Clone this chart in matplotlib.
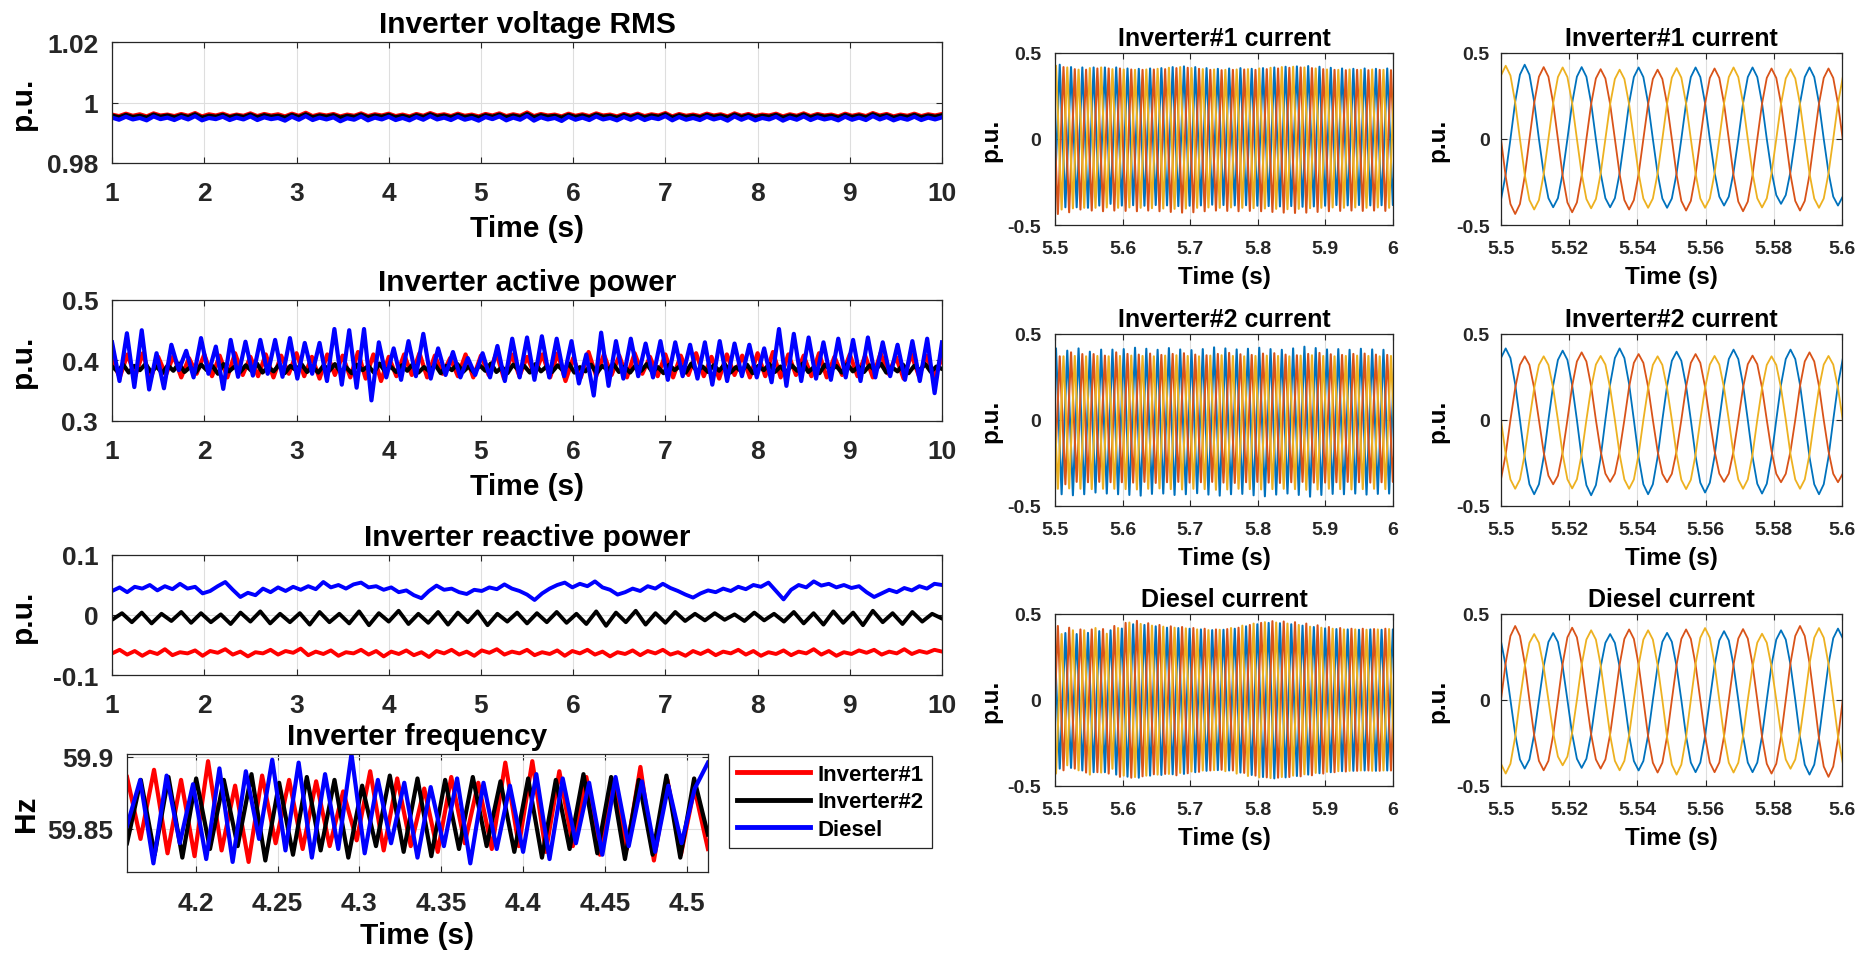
import numpy as np
import matplotlib
matplotlib.use("Agg")
import matplotlib.pyplot as plt

plt.rcParams["font.family"] = ["Liberation Sans", "DejaVu Sans"]
plt.rcParams["font.weight"] = "bold"

# ---------------- data ----------------
# left column, 1..10 s, values in 1e-4 p.u. (voltage) / 1e-3 p.u. (powers)
volt_inv1 = [9960,9955,9963,9956,9961,9954,9964,9957,9960,9955,9962,9956,9965,9954,9961,9957,9963,9955,9960,9956,
             9964,9955,9962,9957,9961,9954,9963,9956,9966,9955,9961,9957,9962,9954,9960,9956,9964,9955,9961,9957,
             9963,9955,9960,9954,9962,9956,9965,9957,9961,9955,9963,9956,9960,9954,9962,9957,9964,9955,9961,9956,
             9967,9955,9962,9957,9960,9954,9963,9956,9961,9955,9964,9957,9960,9954,9962,9956,9963,9955,9961,9957,
             9965,9954,9962,9956,9960,9955,9963,9957,9961,9954,9964,9956,9962,9955,9960,9957,9963,9954,9961,9956,
             9964,9955,9962,9957,9960,9954,9963,9956,9961,9955,9965,9957,9962,9954,9960,9956,9963,9955,9961,9957,
             9962]
volt_inv2 = [9957,9951,9959,9952,9956,9950,9960,9953,9957,9951,9958,9952,9961,9950,9956,9953,9959,9951,9957,9952,
             9960,9951,9958,9953,9956,9950,9959,9952,9961,9951,9957,9953,9958,9950,9956,9952,9960,9951,9957,9953,
             9959,9951,9956,9950,9958,9952,9961,9953,9957,9951,9959,9952,9956,9950,9958,9953,9960,9951,9957,9952,
             9962,9951,9958,9953,9956,9950,9959,9952,9957,9951,9960,9953,9956,9950,9958,9952,9959,9951,9957,9953,
             9961,9950,9958,9952,9956,9951,9959,9953,9957,9950,9960,9952,9958,9951,9956,9953,9959,9950,9957,9952,
             9960,9951,9958,9953,9956,9950,9959,9952,9957,9951,9961,9953,9958,9950,9956,9952,9959,9951,9957,9953,
             9958]
volt_diesel = [9950,9943,9953,9944,9949,9941,9954,9945,9950,9942,9952,9944,9955,9941,9949,9945,9953,9942,9950,9944,
               9954,9942,9951,9945,9949,9940,9953,9943,9955,9942,9950,9944,9951,9938,9948,9943,9954,9941,9950,9944,
               9953,9942,9949,9941,9952,9943,9955,9944,9950,9942,9953,9943,9949,9940,9952,9945,9954,9941,9950,9943,
               9956,9940,9951,9944,9949,9939,9953,9943,9950,9942,9954,9944,9949,9941,9952,9943,9953,9942,9950,9945,
               9955,9941,9952,9943,9949,9942,9953,9944,9950,9940,9954,9943,9952,9941,9949,9944,9953,9940,9950,9943,
               9954,9942,9951,9944,9949,9941,9953,9943,9950,9942,9955,9944,9952,9941,9949,9943,9953,9942,9950,9944,
               9951]

p_inv1 = [400,372,410,374,412,370,406,376,408,372,404,378,410,374,408,372,412,376,406,374,410,372,408,378,412,
          374,406,370,410,376,408,372,414,370,410,366,406,374,410,376,412,372,408,378,404,374,410,372,408,376,
          412,370,410,374,406,376,410,372,412,366,404,372,414,374,410,376,408,372,412,378,406,374,410,372,408,
          376,412,374,406,370,410,376,408,372,412,374,414,372,410,376,408,374,412,372,406,376,410,374,408,372,
          412,378,406,370,410,374,408,372,404]
p_inv2 = [390,382,393,380,391,384,394,381,390,379,392,383,395,381,389,380,393,384,391,378,394,382,390,381,392,
          383,395,380,389,382,393,379,391,384,394,381,390,380,392,383,394,381,389,379,393,384,391,380,395,382,
          390,381,392,383,394,380,389,382,393,379,391,384,394,381,390,380,392,383,395,381,389,379,393,384,391,
          380,394,382,390,381,392,383,395,380,389,382,393,379,391,384,394,381,390,380,392,383,394,381,389,379,
          393,384,391,380,395,382,390,381,392,383,394,380,389,382,393,379,391,384,394,381,390,380,392,383,395,
          381,389,379,393,384,391,380,394,382,390,381,392,383,395,380,389,382,393,379,391,384,394,381,390,386]
p_diesel = [430,366,445,356,450,352,412,354,426,384,416,372,437,378,423,353,434,373,431,375,434,378,434,373,437,
            370,429,378,429,366,452,360,450,355,452,334,430,372,420,368,432,374,444,370,420,376,414,372,404,376,
            412,372,424,366,436,372,438,368,440,372,436,374,432,362,410,342,446,358,432,370,436,374,428,372,432,
            368,430,374,426,370,430,360,432,366,428,374,426,372,420,364,452,358,444,366,438,370,430,368,436,372,
            434,366,438,372,430,374,426,368,432,366,436,346,430]

q_inv1 = [-64,-58,-66,-60,-68,-61,-65,-57,-67,-62,-64,-59,-68,-60,-63,-57,-66,-61,-69,-62,-64,-58,-66,-60,-63,
          -56,-67,-61,-65,-59,-68,-62,-64,-58,-66,-60,-69,-61,-65,-59,-67,-62,-70,-60,-64,-58,-66,-61,-68,-59,
          -63,-57,-66,-61,-64,-58,-67,-62,-65,-59,-68,-60,-64,-58,-66,-61,-69,-62,-65,-59,-67,-60,-64,-58,-66,
          -62,-68,-60,-65,-59,-67,-61,-64,-58,-66,-60,-68,-62,-65,-59,-67,-61,-64,-57,-66,-60,-68,-62,-65,-59,
          -63,-58,-66,-61,-64,-57,-65,-60,-63,-58,-61]
q_inv2 = [-8,3,-12,4,-14,2,-10,5,-13,3,-12,1,-15,4,-11,6,-14,2,-12,3,-16,5,-12,2,-14,6,-17,3,-11,7,-15,2,-13,5,
          -16,4,-12,6,-17,2,-11,4,-14,3,-12,5,-13,2,-15,6,-18,4,-12,7,-16,3,-13,5,-10,2,-9,3,-8,1,-10,4,-9,2,
          -11,5,-14,3,-16,6,-13,4,-17,7,-12,3,-15,5,-11,2,-6]
q_diesel = [40,46,38,47,44,50,41,48,43,52,44,47,36,40,48,55,42,30,37,33,44,38,46,40,47,42,48,43,55,46,50,44,51,
            54,46,48,42,46,38,41,33,28,40,49,42,44,38,35,42,40,46,43,51,44,40,34,25,36,44,50,54,46,52,48,56,46,
            42,34,38,44,40,48,44,52,45,40,34,29,36,41,38,44,40,47,43,50,47,54,40,26,42,50,46,56,49,52,46,50,45,
            48,38,30,36,42,38,45,41,48,44,52,50]

# frequency window 4.158..4.513 s, Hz
f_inv1 = [59.886,59.843,59.891,59.833,59.884,59.831,59.897,59.835,59.880,59.827,59.887,59.840,59.884,59.836,59.883,
          59.838,59.876,59.842,59.890,59.835,59.885,59.838,59.878,59.834,59.886,59.840,59.882,59.836,59.896,59.838,
          59.897,59.834,59.890,59.838,59.886,59.832,59.884,59.836,59.893,59.828,59.884,59.832,59.878,59.836]
f_inv2 = [59.840,59.884,59.832,59.886,59.830,59.885,59.836,59.884,59.838,59.888,59.828,59.882,59.832,59.886,59.835,
          59.884,59.830,59.880,59.838,59.887,59.834,59.885,59.831,59.884,59.836,59.886,59.838,59.883,59.834,59.885,
          59.830,59.884,59.836,59.888,59.833,59.886,59.829,59.884,59.832,59.887,59.830,59.885,59.846]
f_diesel = [59.852,59.884,59.826,59.887,59.840,59.881,59.829,59.892,59.827,59.890,59.843,59.898,59.835,59.896,59.830,
            59.888,59.836,59.902,59.833,59.884,59.840,59.882,59.830,59.879,59.838,59.885,59.826,59.882,59.836,59.880,
            59.834,59.888,59.829,59.885,59.840,59.882,59.832,59.886,59.838,59.883,59.834,59.880,59.840,59.878,59.896]

# phase currents, 1e-3 p.u.; samples every 30 electrical degrees from 5.5 s
STEP = 1 / 59.85 / 12
inv1_a_zoom = [-355,-205,0,216,374,432,374,216,0,-199,-344,-397,-344,-199,0,209,362,418,362,209,0,-199,-344,-397,-344,
               -199,0,208,360,416,360,208,0,-200,-346,-400,-346,-200,0,208,360,416,360,208,0,-194,-335,-387,-335,-194,
               0,208,360,416,360,208,0,-189,-326,-377,-326,-189,0,208,360,416,360,208,0,-194,-335,-387,-335]
inv1_b_zoom = [0,-218,-378,-436,-378,-218,0,209,362,418,362,209,0,-213,-369,-426,-369,-213,0,203,352,406,352,203,0,
               -205,-355,-410,-355,-205,0,202,349,403,349,202,0,-208,-360,-416,-360,-208,0,205,355,410,355,205,0,
               -210,-364,-420,-364,-210,0,205,355,410,355,205,0,-208,-360,-416,-360,-208,0,205,355,410,355,205,0]
inv1_c_zoom = [369,426,369,213,0,-205,-355,-410,-355,-205,0,208,360,416,360,208,0,-202,-349,-403,-349,-202,0,202,349,
               403,349,202,0,-200,-346,-400,-346,-200,0,206,357,412,357,206,0,-200,-346,-400,-346,-200,0,208,360,416,
               360,208,0,-199,-345,-398,-345,-199,0,203,352,406,352,203,0,-200,-346,-400,-346,-200,0,206,357]
inv2_a_zoom = [360,416,360,208,0,-216,-374,-432,-374,-216,0,202,349,403,349,202,0,-219,-379,-438,-379,-219,0,208,360,
               416,360,208,0,-216,-374,-432,-374,-216,0,199,344,397,344,199,0,-211,-365,-422,-365,-211,0,205,354,409,
               354,205,0,-214,-371,-428,-371,-214,0,205,354,409,354,205,0,-216,-374,-432,-374,-216,0,205,354]
inv2_b_zoom = [-346,-200,0,185,320,370,320,185,0,-187,-324,-374,-324,-187,0,197,340,393,340,197,0,-180,-312,-360,-312,
               -180,0,192,332,383,332,192,0,-181,-313,-362,-313,-181,0,192,332,383,332,192,0,-180,-312,-360,-312,-180,
               0,187,324,374,324,187,0,-181,-313,-362,-313,-181,0,197,340,393,340,197,0,-181,-313,-362,-313]
inv2_c_zoom = [0,-200,-346,-400,-346,-200,0,185,320,370,320,185,0,-199,-345,-398,-345,-199,0,186,322,372,322,186,0,
               -200,-346,-400,-346,-200,0,185,320,370,320,185,0,-201,-348,-402,-348,-201,0,186,322,372,322,186,0,
               -200,-346,-400,-346,-200,0,185,320,370,320,185,0,-200,-346,-400,-346,-200,0,186,322,372,322,186,0]
dsl_a_zoom = [342,198,0,-200,-346,-399,-346,-200,0,195,337,389,337,195,0,-198,-342,-395,-342,-198,0,192,332,383,332,
              192,0,-205,-355,-410,-355,-205,0,195,338,390,338,195,0,-210,-364,-420,-364,-210,0,200,346,400,346,200,
              0,-210,-364,-420,-364,-210,0,203,351,405,351,203,0,-217,-376,-434,-376,-217,0,208,359,415,359]
dsl_b_zoom = [0,215,372,430,372,215,0,-205,-354,-409,-354,-205,0,210,364,420,364,210,0,-200,-346,-399,-346,-200,0,
              205,355,410,355,205,0,-211,-365,-422,-365,-211,0,205,355,410,355,205,0,-210,-364,-420,-364,-210,0,
              206,357,412,357,206,0,-214,-371,-428,-371,-214,0,215,372,430,372,215,0,-224,-387,-447,-387,-224,0]
dsl_c_zoom = [-371,-428,-371,-214,0,192,332,383,332,192,0,-190,-329,-380,-329,-190,0,203,351,405,351,203,0,-205,-354,
              -409,-354,-205,0,203,351,405,351,203,0,-217,-376,-434,-376,-217,0,209,362,418,362,209,0,-211,-365,-422,
              -365,-211,0,193,333,385,333,193,0,-200,-346,-400,-346,-200,0,209,362,418,362,209,0,-210,-364]

# 5.5..6 s: successive peaks/troughs of each phase (half-cycle = 6 samples),
# first extreme sits at the given sample offset
inv1_start = [-1, -3, -5]
inv1_a_wide = [-410,432,-397,418,-397,416,-400,416,-387,416,-377,416,-387,410,-385,408,-388,410,-384,412,-386,418,
               -390,422,-388,418,-386,412,-382,408,-384,410,-386,412,-385,408,-388,412,-390,416,-392,420,-390,422,
               -394,424,-392,420,-388,414,-384,410,-386,408,-384,410,-386,408,-385,410,-384,408]
inv1_b_wide = [410,-436,418,-426,406,-410,403,-416,410,-420,410,-416,410,-418,404,-420,402,-416,404,-420,406,-424,
               412,-428,414,-426,408,-420,402,-416,400,-418,402,-420,404,-418,402,-420,406,-424,410,-428,414,-430,
               416,-428,412,-424,406,-420,402,-418,400,-416,402,-418,400,-416,402,-418,400,-416]
inv1_c_wide = [-405,426,-410,416,-403,403,-400,412,-400,416,-398,406,-400,404,-398,402,-400,404,-402,408,-404,414,
               -406,418,-404,412,-400,406,-398,404,-400,402,-398,404,-400,406,-402,410,-404,414,-406,418,-408,420,
               -406,416,-402,410,-400,404,-398,402,-400,404,-398,402,-400,404,-398,402,-400,404]
inv2_start = [-5, -1, -3]
inv2_a_wide = [-430,416,-432,403,-438,416,-432,397,-422,409,-428,409,-432,412,-436,420,-440,414,-430,408,-428,418,
               -436,410,-432,406,-426,412,-434,422,-440,416,-432,410,-430,414,-438,420,-444,412,-434,408,-428,416,
               -436,426,-446,418,-436,410,-430,412,-432,408,-428,414,-434,410,-430,408,-428,410]
inv2_b_wide = [-400,370,-374,393,-360,383,-362,383,-360,374,-362,393,-362,384,-364,380,-360,386,-366,378,-362,384,
               -360,388,-364,380,-362,376,-360,384,-364,390,-366,382,-362,378,-360,386,-364,388,-366,380,-362,376,
               -360,384,-364,390,-364,382,-362,378,-360,384,-362,386,-364,380,-362,378,-360,382]
inv2_c_wide = [370,-400,370,-398,372,-400,370,-402,372,-400,370,-400,372,-402,374,-404,372,-400,370,-398,374,-402,
               376,-404,372,-400,370,-402,374,-406,376,-404,372,-400,370,-402,372,-404,374,-402,372,-400,370,-402,
               374,-406,376,-404,372,-400,370,-402,372,-404,374,-402,372,-400,370,-402,372,-400]
dsl_start = [-1, -3, -5]
dsl_a_wide = [395,-399,389,-395,383,-410,390,-420,400,-420,405,-434,415,-446,440,-452,436,-440,428,-436,420,-432,
              418,-430,414,-420,410,-412,406,-408,408,-410,414,-422,428,-436,440,-448,448,-456,446,-450,440,-442,
              432,-434,424,-426,416,-420,412,-414,410,-412,408,-410,410,-412,408,-410,410,-412]
dsl_b_wide = [-405,430,-409,420,-399,410,-422,410,-420,412,-428,430,-447,448,-452,460,-444,446,-432,436,-430,428,
              -438,424,-426,418,-418,414,-410,410,-406,412,-410,420,-424,436,-440,448,-450,458,-452,456,-448,452,
              -444,444,-438,434,-428,424,-420,418,-416,414,-412,414,-410,412,-412,414,-410,412]
dsl_c_wide = [400,-428,383,-380,405,-409,405,-434,418,-422,385,-400,418,-440,450,-448,442,-440,432,-434,426,-430,
              420,-424,416,-416,410,-410,406,-408,408,-414,418,-428,432,-442,444,-450,452,-454,450,-448,444,-440,
              436,-432,426,-424,420,-418,414,-414,410,-412,410,-410,408,-412,410,-410,412,-410]

source_names = ["Inverter#1", "Inverter#2", "Diesel"]
source_colors = ["#ff0000", "#000000", "#0000ff"]
phase_colors = ["#0072bd", "#d95319", "#edb120"]

left_xticks = [1, 2, 3, 4, 5, 6, 7, 8, 9, 10]
freq_xticks = [4.2, 4.25, 4.3, 4.35, 4.4, 4.45, 4.5]
freq_xlabels = ["4.2", "4.25", "4.3", "4.35", "4.4", "4.45", "4.5"]
wide_xticks = [5.5, 5.6, 5.7, 5.8, 5.9, 6.0]
wide_xlabels = ["5.5", "5.6", "5.7", "5.8", "5.9", "6"]
zoom_xticks = [5.5, 5.52, 5.54, 5.56, 5.58, 5.6]
zoom_xlabels = ["5.5", "5.52", "5.54", "5.56", "5.58", "5.6"]

AX_COL = "#262626"


def style(ax, xlim, xt, xl, ylim, yt, yl, fs, xpad, ypad):
    ax.set_xlim(xlim)
    ax.set_ylim(ylim)
    ax.set_xticks(xt)
    ax.set_xticklabels(xl)
    ax.set_yticks(yt)
    ax.set_yticklabels(yl)
    ax.grid(True, color="#dedede", lw=0.8)
    ax.set_axisbelow(True)
    ax.tick_params(direction="in", length=4, width=0.8, top=True, right=True,
                   labelsize=fs, color=AX_COL, labelcolor=AX_COL)
    ax.tick_params(axis="x", pad=xpad)
    ax.tick_params(axis="y", pad=ypad)
    for s in ax.spines.values():
        s.set_color(AX_COL)
        s.set_linewidth(0.9)


fig = plt.figure(figsize=(18.65, 9.54), dpi=100)

# ---------------- left column ----------------
LX, LW, LH = 0.0601, 0.4450, 0.1268
ax1 = fig.add_axes([LX, 0.8281, LW, LH])
ax2 = fig.add_axes([LX, 0.5577, LW, LH])
ax3 = fig.add_axes([LX, 0.2914, LW, 0.1258])
ax4 = fig.add_axes([0.0681, 0.0849, 0.3115, 0.1237])

for vals, c in zip([volt_inv1, volt_inv2, volt_diesel], source_colors):
    ax1.plot(np.linspace(1, 10, len(vals)), np.array(vals) / 1e4, color=c, lw=3.0)
for vals, c in zip([p_inv1, p_inv2, p_diesel], source_colors):
    ax2.plot(np.linspace(1, 10, len(vals)), np.array(vals) / 1e3, color=c, lw=3.0)
for vals, c in zip([q_inv1, q_inv2, q_diesel], source_colors):
    ax3.plot(np.linspace(1, 10, len(vals)), np.array(vals) / 1e3, color=c, lw=2.8)
for vals, c, name in zip([f_inv1, f_inv2, f_diesel], source_colors, source_names):
    ax4.plot(np.linspace(4.158, 4.513, len(vals)), vals, color=c, lw=3.0, label=name)

lt = [str(v) for v in left_xticks]
style(ax1, (1, 10), left_xticks, lt, (0.98, 1.02), [0.98, 1.0, 1.02], ["0.98", "1", "1.02"], 19, 13, 10)
style(ax2, (1, 10), left_xticks, lt, (0.3, 0.5), [0.3, 0.4, 0.5], ["0.3", "0.4", "0.5"], 19, 13, 10)
style(ax3, (1, 10), left_xticks, lt, (-0.1, 0.1), [-0.1, 0, 0.1], ["-0.1", "0", "0.1"], 19, 13, 10)
style(ax4, (4.158, 4.513), freq_xticks, freq_xlabels, (59.82, 59.902), [59.85, 59.9],
      ["59.85", "59.9"], 19, 14, 10)

for ax, title in [(ax1, "Inverter voltage RMS"), (ax2, "Inverter active power"),
                  (ax3, "Inverter reactive power"), (ax4, "Inverter frequency")]:
    ax.set_title(title, fontsize=21.5, fontweight="bold", pad=7)
for ax in (ax1, ax2, ax3):
    ax.set_ylabel("p.u.", fontsize=21.5, fontweight="bold")
    ax.yaxis.set_label_coords(-0.09, 0.5)
ax4.set_ylabel("Hz", fontsize=21.5, fontweight="bold")
ax4.yaxis.set_label_coords(-0.15, 0.5)
for ax in (ax1, ax2):
    ax.set_xlabel("Time (s)", fontsize=21.5, fontweight="bold")
    ax.xaxis.set_label_coords(0.5, -0.42)
ax4.set_xlabel("Time (s)", fontsize=21.5, fontweight="bold")
ax4.xaxis.set_label_coords(0.5, -0.415)

leg = fig.legend(*ax4.get_legend_handles_labels(), loc="upper left",
                 bbox_to_anchor=(0.3909, 0.2065), borderaxespad=0, fontsize=16,
                 handlelength=3.3, handletextpad=0.35, labelspacing=0.3, borderpad=0.35,
                 fancybox=False, framealpha=1, edgecolor=AX_COL)
leg.get_frame().set_linewidth(0.9)
for line in leg.get_lines():
    line.set_linewidth(3.5)

# ---------------- current panels ----------------
MX, MW = 0.5657, 0.1812
RX, RW = 0.8048, 0.1828
row_bottoms = [0.7631, 0.4686, 0.1751]
RH = 0.1803
titles = ["Inverter#1 current", "Inverter#2 current", "Diesel current"]
wide_sets = [(inv1_a_wide, inv1_b_wide, inv1_c_wide), (inv2_a_wide, inv2_b_wide, inv2_c_wide),
             (dsl_a_wide, dsl_b_wide, dsl_c_wide)]
wide_starts = [inv1_start, inv2_start, dsl_start]
zoom_sets = [(inv1_a_zoom, inv1_b_zoom, inv1_c_zoom), (inv2_a_zoom, inv2_b_zoom, inv2_c_zoom),
             (dsl_a_zoom, dsl_b_zoom, dsl_c_zoom)]

for row in range(3):
    axm = fig.add_axes([MX, row_bottoms[row], MW, RH])
    axr = fig.add_axes([RX, row_bottoms[row], RW, RH])
    for vals, k0, c in zip(wide_sets[row], wide_starts[row], phase_colors):
        k = k0 + 6 * np.arange(len(vals))
        axm.plot(5.5 + k * STEP, np.array(vals) / 1e3, color=c, lw=1.5)
    for vals, c in zip(zoom_sets[row], phase_colors):
        axr.plot(5.5 + np.arange(len(vals)) * STEP, np.array(vals) / 1e3, color=c, lw=1.3)
    style(axm, (5.5, 6.0), wide_xticks, wide_xlabels, (-0.5, 0.5), [-0.5, 0, 0.5],
          ["-0.5", "0", "0.5"], 14, 11, 10)
    style(axr, (5.5, 5.6), zoom_xticks, zoom_xlabels, (-0.5, 0.5), [-0.5, 0, 0.5],
          ["-0.5", "0", "0.5"], 14, 11, 8)
    for ax in (axm, axr):
        ax.set_title(titles[row], fontsize=18, fontweight="bold", pad=6)
        ax.set_ylabel("p.u.", fontsize=17.5, fontweight="bold")
        ax.set_xlabel("Time (s)", fontsize=17.5, fontweight="bold")
        ax.xaxis.set_label_coords(0.5, -0.235)
    axm.yaxis.set_label_coords(-0.157, 0.5)
    axr.yaxis.set_label_coords(-0.15, 0.5)

fig.savefig("out.png", dpi=100, facecolor="white")
